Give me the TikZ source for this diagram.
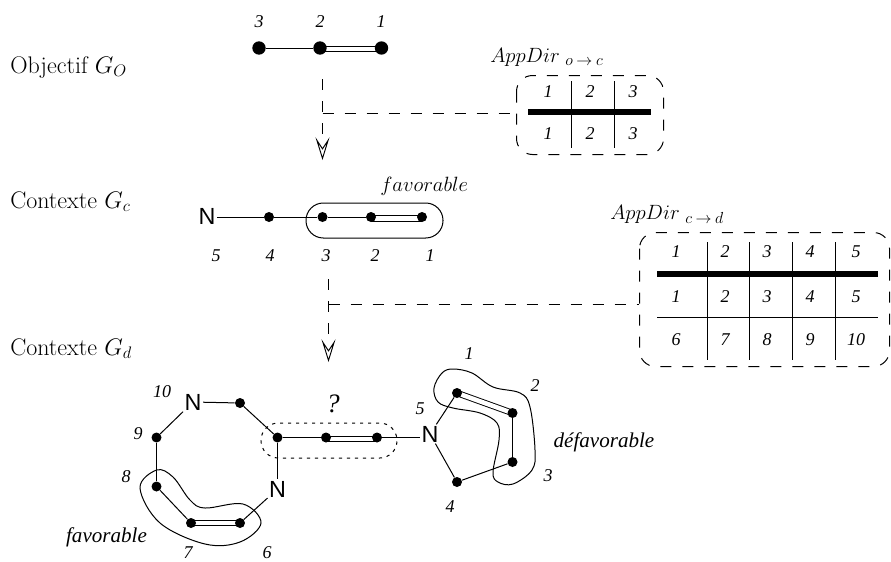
\documentclass[tikz,border=0pt]{standalone}
\usepackage{fix-cm}
\usepackage{fontspec}
\setmainfont{Latin Modern Roman}
\newfontfamily\timesf{Liberation Serif}
\newfontfamily\arialf{Liberation Sans}
\usetikzlibrary{arrows.meta,backgrounds}
\DeclareMathSizes{15.5}{15.5}{12}{9}
\DeclareMathSizes{18}{18}{12.5}{9}
\newcommand\AppDirLabel[1]{$AppDir_{\mkern7mu #1}$}
\tikzset{
  x=0.75pt,y=-0.75pt,
  bond/.style={line width=0.75pt,black},
  dblbond/.style={line width=0.7pt,double=white,double distance=3.4pt,black},
  bigdot/.style={circle,fill=black,inner sep=0pt,minimum size=10pt},
  smalldot/.style={circle,fill=black,inner sep=0pt,minimum size=7.5pt},
  atom/.style={font=\arialf\fontsize{17.5}{17.5}\selectfont,inner sep=1pt},
  num/.style={font=\timesf\itshape\fontsize{13.5}{13.5}\selectfont,inner sep=0pt},
  ital/.style={font=\timesf\itshape\fontsize{15.8}{15.8}\selectfont,inner sep=0pt},
  lefttext/.style={font=\fontsize{18}{18}\selectfont,anchor=base west,inner sep=0pt},
  title/.style={font=\fontsize{15.5}{15.5}\selectfont,inner sep=0pt},
  dashline/.style={line width=0.75pt,dash pattern=on 8.25pt off 8.25pt},
  flow/.style={line width=0.75pt,dash pattern=on 8.25pt off 8.25pt on 8.25pt off 8.25pt on 8.25pt off 40pt,-{Stealth[open,length=17pt,width=10.5pt,inset=8pt,line width=0.7pt,fill=white]}},
  hull/.style={line width=0.75pt,black},
  tabbox/.style={dashline,rounded corners=12pt},
  thickrule/.style={line width=3.8pt},
  thinrule/.style={line width=0.75pt}
}
\begin{document}
\begin{tikzpicture}
\useasboundingbox (0,0) rectangle (891,561);
% left texts
\node[lefttext] (tO) at (10,73) {Objectif $G_O$};
\node[lefttext] (tC) at (10,208) {Contexte $G_c$};
\node[lefttext] (tD) at (10,355) {Contexte $G_d$};
% objective molecule
\node[bigdot] (o3) at (259,48) {};
\node[bigdot] (o2) at (320,48) {};
\node[bigdot] (o1) at (381.5,48) {};
\node[num] (lo3) at (259,22) {3};
\node[num] (lo2) at (320,22) {2};
\node[num] (lo1) at (381,22) {1};
\begin{scope}[on background layer]
\draw[bond] (o3) -- (o2);
\draw[dblbond] ([yshift=-0.75pt]o2.center) -- ([yshift=-0.75pt]o1.center);
\end{scope}
% flow 1
\coordinate (f1a) at (322.5,79);
\coordinate (f1j) at (322.5,113.5);
\coordinate (f1b) at (322.5,160);
\coordinate (b1w) at (516,113.5);
\draw[flow] (f1a) -- (f1b);
\draw[dashline] (f1j) -- (b1w);
% table 1
\node[title,anchor=west] (t1) at (490,57) {\AppDirLabel{o\mkern4mu{\rightarrow}\mkern4mu c}};
\draw[tabbox] (516.5,75.5) rectangle (663.5,154.5);
\coordinate (r1a) at (528,112); \coordinate (r1b) at (651,112);
\draw[thickrule] (r1a) -- (r1b);
\coordinate (v1a) at (571.5,81); \coordinate (v1b) at (571.5,148);
\coordinate (v2a) at (614.5,81); \coordinate (v2b) at (614.5,148);
\draw[thinrule] (v1a) -- (v1b);
\draw[thinrule] (v2a) -- (v2b);
\foreach \x/\t in {548/1,590/2,633/3}{
  \node[num] at (\x,92) {\t};
  \node[num] at (\x,134) {\t};
}
% context c molecule
\node[atom] (cN) at (207,216) {N};
\node[smalldot] (c4) at (269,217) {};
\node[smalldot] (c3) at (322.5,217) {};
\node[smalldot] (c2) at (371,217) {};
\node[smalldot] (c1) at (422,217) {};
\begin{scope}[on background layer]
\draw[bond] (cN.east|-c4) -- (c4);
\draw[bond] (c4) -- (c3);
\draw[bond] (c3) -- (c2);
\draw[dblbond] ([yshift=-1.1pt]c2.center) -- ([yshift=-1.1pt]c1.center);
\end{scope}
\draw[hull,rounded corners=13pt] (306,203) rectangle (443,238);
\node[title,anchor=west] (fav1) at (380,186) {$favorable$};
\foreach \x/\t in {216/5,270/4,326/3,375/2,430/1}{
  \node[num] at (\x,256) {\t};
}
% flow 2
\coordinate (f2a) at (328.5,279);
\coordinate (f2j) at (328.5,304.5);
\coordinate (f2b) at (328.5,362);
\coordinate (b2w) at (639,304.5);
\draw[flow] (f2a) -- (f2b);
\draw[dashline] (f2j) -- (b2w);
% table 2
\node[title,anchor=west] (t2) at (610,214) {\AppDirLabel{c\mkern4mu{\rightarrow}\mkern4mu d}};
\draw[tabbox] (639.5,232.5) rectangle (889.5,366.5);
\coordinate (r2a) at (657,274); \coordinate (r2b) at (878,274);
\draw[thickrule] (r2a) -- (r2b);
\coordinate (r3a) at (657,317.5); \coordinate (r3b) at (878,317.5);
\draw[thinrule] (r3a) -- (r3b);
\foreach \x in {707,749,792,835}{
  \draw[thinrule] (\x+0.5,242) -- (\x+0.5,360);
}
\foreach \x/\a/\b in {676/1/6,725/2/7,767/3/8,810/4/9,856/5/10}{
  \node[num] at (\x,252) {\a};
  \node[num] at (\x,297) {\a};
  \node[num] at (\x,340) {\b};
}
% large ring
\node[atom] (dN10) at (193,402) {N};
\node[smalldot] (d11) at (240,403) {};
\node[smalldot] (da) at (277.5,437.5) {};
\node[smalldot] (db) at (326,437.5) {};
\node[smalldot] (dc) at (377,437.5) {};
\node[atom] (dNr) at (430,434) {N};
\node[atom] (dNb) at (277.5,489) {N};
\node[smalldot] (d9) at (156.5,437.5) {};
\node[smalldot] (d8) at (156.5,486.5) {};
\node[smalldot] (d7) at (191,523) {};
\node[smalldot] (d6) at (240,523) {};
\begin{scope}[on background layer]
\draw[bond] (dN10) -- (d11);
\draw[bond] (d11) -- (da);
\draw[bond] (da) -- (db);
\draw[dblbond] ([yshift=-1pt]db.center) -- ([yshift=-1pt]dc.center);
\draw[bond] (dc) -- (dNr.west|-dc);
\draw[bond] (da) -- (dNb);
\draw[bond] (dNb) -- (d6);
\draw[dblbond] (d7.center) -- (d6.center);
\draw[bond] (d7) -- (d8);
\draw[bond] (d8) -- (d9);
\draw[bond] (d9) -- (dN10);
\end{scope}
\draw[line width=0.75pt,dash pattern=on 2.4pt off 3.6pt,rounded corners=13pt] (261,423) rectangle (397,458);
\node[num,font=\timesf\itshape\fontsize{20}{20}\selectfont] (q) at (333,404) {?};
\foreach \x/\y/\t in {162/392/10,138/434/9,126/477/8,188/553/7,267/553/6}{
  \node[num] at (\x,\y) {\t};
}
\node[ital] (fav2) at (106.5,537) {favorable};
\draw[hull] plot[smooth cycle,tension=0.6] coordinates {(156.7,470)(173,477)(190,500)(205,508)(243,504)(261,523)(240,542)(205,544)(160,523)(140,488)};
% five ring
\node[smalldot] (e1) at (457,393) {};
\node[smalldot] (e2) at (512.5,413) {};
\node[smalldot] (e3) at (512.5,462) {};
\node[smalldot] (e4) at (457,482) {};
\begin{scope}[on background layer]
\draw[dblbond] (e1.center) -- (e2.center);
\draw[bond] (e2) -- (e3);
\draw[bond] (e3) -- (e4);
\draw[bond] (e4) -- (dNr);
\draw[bond] (dNr) -- (e1);
\end{scope}
\draw[hull] plot[smooth cycle,tension=0.6] coordinates {(453,369)(472,373)(493,387)(520,393)(530,407)(535,450)(532,470)(513,484)(498,482)(493,472)(499,440)(497,423)(480,413)(453,408)(438,402)(434,388)(442,373)};
\foreach \x/\y/\t in {469/354/1,535/386/2,548/476/3,450/507/4,420/409/5}{
  \node[num] at (\x,\y) {\t};
}
\node[ital] (defav) at (604,442) {défavorable};
\end{tikzpicture}
\end{document}
